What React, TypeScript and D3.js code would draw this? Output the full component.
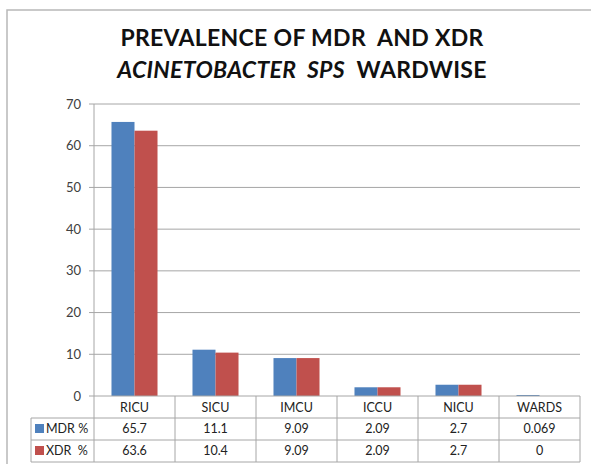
import * as d3 from 'd3';

const categories = ['RICU', 'SICU', 'IMCU', 'ICCU', 'NICU', 'WARDS'];
const mdrValues = [65.7, 11.1, 9.09, 2.09, 2.7, 0.069];
const xdrValues = [63.6, 10.4, 9.09, 2.09, 2.7, 0];
const mdrLabels = ['65.7', '11.1', '9.09', '2.09', '2.7', '0.069'];
const xdrLabels = ['63.6', '10.4', '9.09', '2.09', '2.7', '0'];
const yTicks = [0, 10, 20, 30, 40, 50, 60, 70];

const series = [
  { name: 'MDR %', values: mdrValues, labels: mdrLabels, color: '#4f81bd' },
  { name: 'XDR  %', values: xdrValues, labels: xdrLabels, color: '#c0504d' },
];

const W = 591;
const H = 464;
const font = 'Lato, "Open Sans", sans-serif';

export default function App() {
  const left = 94;
  const right = 580;
  const top = 104;
  const bottom = 396;
  const rowH = 22;
  const legendLeft = 31;

  const x = d3.scaleBand<string>().domain(categories).range([left, right]);
  const y = d3.scaleLinear().domain([0, 70]).range([bottom, top]);
  // two bars per category, ~23px each, centred in the band
  const inner = d3
    .scaleBand<string>()
    .domain(series.map(s => s.name))
    .range([0, x.bandwidth()])
    .paddingOuter(0.76)
    .paddingInner(0);

  const gridColor = '#a6a6a6';
  const tableColor = '#a6a6a6';

  return (
    <svg width={W} height={H} style={{ position: 'absolute', left: 0, top: 0, background: '#fff' }}>
      <rect x={7} y={10} width={W + 10} height={H + 10} fill="#fff" stroke="#b8b8b8" strokeWidth={1.5} />

      <text x={302} y={46} textAnchor="middle" fontFamily={font} fontWeight="bold" fontSize={23} letterSpacing={0.3} fill="#111" style={{ whiteSpace: 'pre' }}>
        {'PREVALENCE OF MDR  AND XDR'}
      </text>
      <text x={302} y={78} textAnchor="middle" fontFamily={font} fontWeight="bold" fontSize={23} letterSpacing={0.3} fill="#111" style={{ whiteSpace: 'pre' }}>
        <tspan fontStyle="italic">{'ACINETOBACTER  SPS'}</tspan>
        <tspan>{'  WARDWISE'}</tspan>
      </text>

      {yTicks.map(t => (
        <g key={t}>
          {t > 0 && <line x1={left} x2={right} y1={y(t)} y2={y(t)} stroke={gridColor} strokeWidth={1} />}
          <line x1={left - 5} x2={left} y1={y(t)} y2={y(t)} stroke={gridColor} />
          <text x={81} y={y(t) + 4.5} textAnchor="end" fontFamily={font} fontSize={13} fill="#404040">
            {t}
          </text>
        </g>
      ))}
      <line x1={left} x2={left} y1={top} y2={bottom} stroke={gridColor} />

      {series.map(s =>
        categories.map((c, i) => {
          const v = s.values[i];
          const bx = (x(c) ?? 0) + (inner(s.name) ?? 0);
          const h = bottom - y(v);
          return (
            <rect key={s.name + c} x={bx} y={y(v) - (h > 0 && h < 1 ? 1 - h : 0)} width={inner.bandwidth()} height={h > 0 && h < 1 ? 1 : h} fill={s.color} />
          );
        })
      )}

      {/* data table */}
      <g fontFamily={font} fontSize={12.5} fill="#222">
        {categories.map(c => (
          <text key={c} x={(x(c) ?? 0) + x.bandwidth() / 2} y={bottom + 16} textAnchor="middle">
            {c}
          </text>
        ))}
        {series.map((s, r) => (
          <g key={s.name}>
            <rect x={legendLeft + 4} y={bottom + rowH * (r + 1) + 6} width={9} height={9} fill={s.color} />
            <text x={legendLeft + 15} y={bottom + rowH * (r + 1) + 15} style={{ whiteSpace: 'pre' }}>
              {s.name}
            </text>
            {categories.map((c, i) => (
              <text key={c} x={(x(c) ?? 0) + x.bandwidth() / 2} y={bottom + rowH * (r + 1) + 15} textAnchor="middle">
                {s.labels[i]}
              </text>
            ))}
          </g>
        ))}
      </g>
      <g stroke={tableColor} strokeWidth={1}>
        <line x1={left} x2={right} y1={bottom} y2={bottom} />
        <line x1={legendLeft} x2={right} y1={bottom + rowH} y2={bottom + rowH} />
        <line x1={legendLeft} x2={right} y1={bottom + rowH * 2} y2={bottom + rowH * 2} />
        <line x1={legendLeft} x2={right} y1={bottom + rowH * 3} y2={bottom + rowH * 3} />
        <line x1={legendLeft} x2={legendLeft} y1={bottom + rowH} y2={bottom + rowH * 3} />
        {categories.map(c => (
          <line key={c} x1={x(c)} x2={x(c)} y1={bottom} y2={bottom + rowH * 3} />
        ))}
        <line x1={right} x2={right} y1={bottom} y2={bottom + rowH * 3} />
      </g>
    </svg>
  );
}
